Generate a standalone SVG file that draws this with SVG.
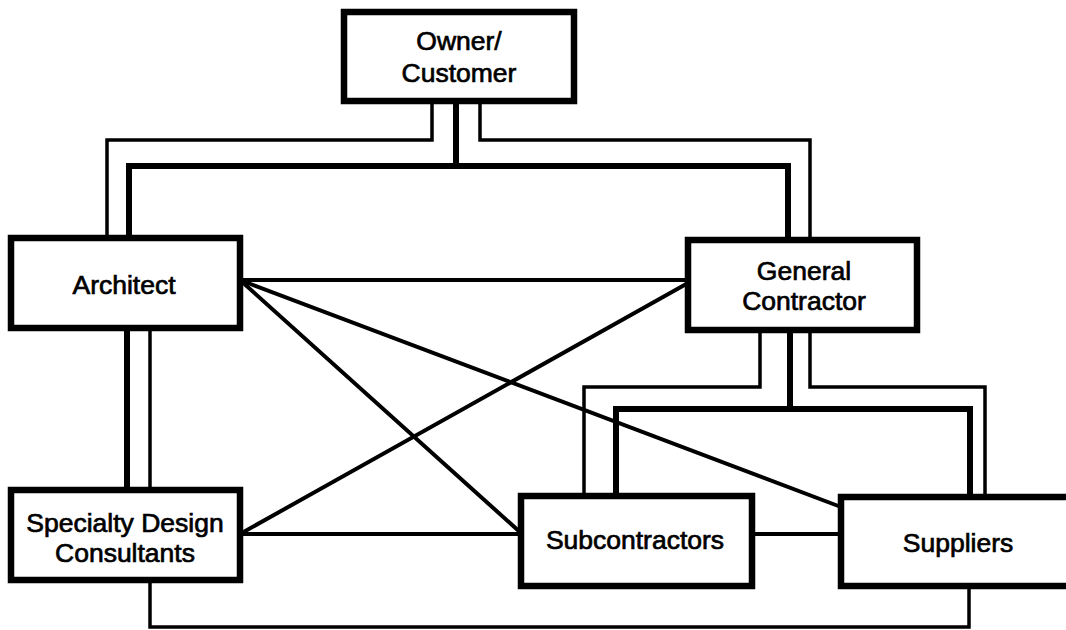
<svg xmlns="http://www.w3.org/2000/svg" width="1066" height="630" viewBox="0 0 1066 630">
<style>
.box{fill:#fff;stroke:#000;stroke-width:6.5}
.lbl{font-family:"Liberation Sans",Arial,Helvetica,sans-serif;font-size:26.5px;fill:#000;stroke:#000;stroke-width:0.7;text-anchor:middle}
.thin{fill:none;stroke:#000;stroke-width:3.5;stroke-linejoin:miter;stroke-linecap:square}
.thick{fill:none;stroke:#000;stroke-width:6;stroke-linejoin:miter;stroke-linecap:square}
.rel{fill:none;stroke:#000;stroke-width:4;stroke-linecap:round}
</style>
<rect width="1066" height="630" fill="#fff"/>
<g id="connectors">
<path class="thin" d="M432,101 V140 H107 V238"/>
<path class="thin" d="M480,101 V140 H810 V240"/>
<path class="thick" d="M456,101 V166"/>
<path class="thick" d="M129,238 V166 H788 V240"/>
<path class="thick" d="M127,328 V490"/>
<path class="thin" d="M150,328 V490"/>
<path class="thin" d="M150,580 V627 H969 V586"/>
<path class="thin" d="M760,329 V387 H584 V496"/>
<path class="thin" d="M810,329 V387 H985 V497"/>
<path class="thick" d="M790,329 V409"/>
<path class="thick" d="M616,496 V409 H970 V497"/>
<path class="rel" d="M240,280 H688"/>
<path class="rel" d="M240,280 L521,533"/>
<path class="rel" d="M240,280 L841,507"/>
<path class="rel" d="M240,534 L688,283"/>
<path class="rel" d="M240,534 H521"/>
<path class="rel" d="M752,534 H841"/>
</g>
<g id="owner">
<rect class="box" x="344" y="12" width="230" height="89"/>
<text class="lbl" x="459" y="50">Owner/</text>
<text class="lbl" x="459" y="82">Customer</text>
</g>
<g id="architect">
<rect class="box" x="11" y="238" width="229" height="90"/>
<text class="lbl" x="124" y="294">Architect</text>
</g>
<g id="general-contractor">
<rect class="box" x="688" y="240" width="229" height="90"/>
<text class="lbl" x="804" y="280">General</text>
<text class="lbl" x="804" y="310">Contractor</text>
</g>
<g id="specialty-design-consultants">
<rect class="box" x="11" y="490" width="229" height="90"/>
<text class="lbl" x="125" y="532">Specialty Design</text>
<text class="lbl" x="125" y="562">Consultants</text>
</g>
<g id="subcontractors">
<rect class="box" x="521" y="496" width="231" height="90"/>
<text class="lbl" x="635" y="549">Subcontractors</text>
</g>
<g id="suppliers">
<rect class="box" x="841" y="497" width="250" height="89"/>
<text class="lbl" x="958" y="552">Suppliers</text>
</g>
</svg>
